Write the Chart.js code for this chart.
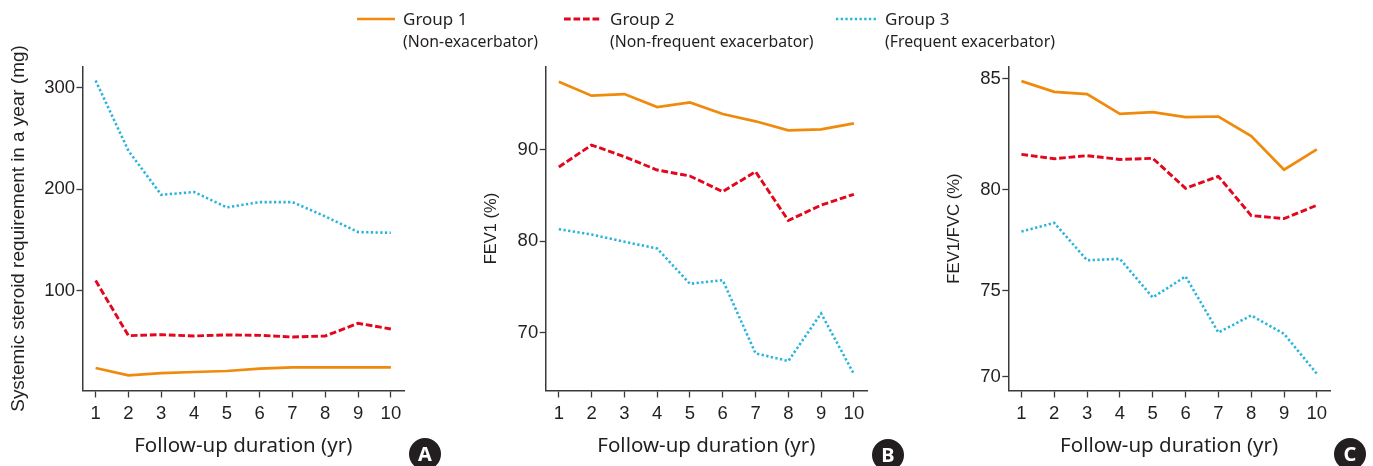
<!DOCTYPE html>
<html>
<head>
<meta charset="utf-8">
<title>Exacerbator groups over 10 years of follow-up</title>
<script src="https://cdn.jsdelivr.net/npm/chart.js@4.4.1/dist/chart.umd.min.js"></script>
<style>
  html, body { margin: 0; padding: 0; background: #fff; }
  #fig { position: relative; width: 1373px; height: 466px; overflow: hidden; background: #fff; }
  #fig canvas { position: absolute; top: 0; }
  .leg-line { position: absolute; }
  .leg-text { position: absolute; color: #231f20; font-family: "Noto Sans", sans-serif; white-space: nowrap; }
  .leg-main { font-size: 17px; line-height: 17px; }
  .leg-sub { font-size: 15.8px; line-height: 15.8px; }
  .badge { position: absolute; width: 32px; height: 32px; border-radius: 50%; background: #231f20; color: #fff;
           font-family: "Noto Sans", sans-serif; font-weight: bold; font-size: 20px; line-height: 32px; text-align: center; }
</style>
</head>
<body>
<div id="fig">
  <canvas id="panelA" width="460" height="466" style="left:0px"></canvas>
  <canvas id="panelB" width="460" height="466" style="left:460px"></canvas>
  <canvas id="panelC" width="453" height="466" style="left:920px"></canvas>
</div>
<script>
// Follow-up years
const years = [1, 2, 3, 4, 5, 6, 7, 8, 9, 10];

// Systemic steroid requirement in a year (mg)
const steroidGroup1 = [24.1, 16.9, 19.2, 20.2, 21.2, 23.5, 24.8, 24.8, 24.8, 24.8];
const steroidGroup2 = [110.2, 56.0, 57.0, 55.7, 56.7, 56.3, 54.7, 55.7, 68.1, 62.6];
const steroidGroup3 = [307.2, 238.0, 194.7, 197.4, 182.3, 187.5, 187.5, 173.4, 158.0, 157.3];

// FEV1 (% predicted)
const fev1Group1 = [97.43, 95.90, 96.08, 94.66, 95.17, 93.90, 93.10, 92.11, 92.22, 92.88];
const fev1Group2 = [88.11, 90.51, 89.23, 87.78, 87.12, 85.41, 87.60, 82.26, 83.94, 85.12];
const fev1Group3 = [81.31, 80.73, 79.93, 79.20, 75.34, 75.74, 67.74, 66.90, 72.11, 65.48];

// FEV1/FVC (%)
const ratioGroup1 = [84.88, 84.40, 84.30, 83.41, 83.49, 83.26, 83.29, 82.41, 80.90, 81.81];
const ratioGroup2 = [81.59, 81.39, 81.53, 81.36, 81.41, 80.06, 80.60, 78.72, 78.57, 79.23];
const ratioGroup3 = [77.93, 78.36, 76.51, 76.58, 74.61, 75.71, 72.57, 73.56, 72.49, 70.16];

// Axis tick labels
const steroidTicks = [100, 200, 300];
const fev1Ticks = [70, 80, 90];
const ratioTicks = [70, 75, 80, 85];

// Legend text
const groupNames = ['Group 1', 'Group 2', 'Group 3'];
const groupNotes = ['(Non-exacerbator)', '(Non-frequent exacerbator)', '(Frequent exacerbator)'];
const panelLetters = ['A', 'B', 'C'];

// Series styling
const INK = '#231f20';
const groupStyles = [
  { color: '#ef8a0c', width: 2.7, dash: [] },
  { color: '#e3061c', width: 2.9, dash: [6.7, 2.8] },
  { color: '#29b4dd', width: 2.6, dash: [2.3, 2.4] }
];

// The FEV1/FVC axis has uneven spacing between its ticks; these stops give the
// fraction of the axis height at which each tick value sits.
const ratioAxisStops = [[70, 0.0432], [75, 0.3077], [80, 0.6198], [85, 0.9630]];

function stopDecimal(v, stops) {
  let i = 0;
  if (v <= stops[0][0]) i = 0;
  else if (v >= stops[stops.length - 1][0]) i = stops.length - 2;
  else { while (v > stops[i + 1][0]) i++; }
  const [v0, d0] = stops[i], [v1, d1] = stops[i + 1];
  return d0 + (v - v0) * (d1 - d0) / (v1 - v0);
}
function stopValue(d, stops) {
  let i = 0;
  if (d <= stops[0][1]) i = 0;
  else if (d >= stops[stops.length - 1][1]) i = stops.length - 2;
  else { while (d > stops[i + 1][1]) i++; }
  const [v0, d0] = stops[i], [v1, d1] = stops[i + 1];
  return v0 + (d - d0) * (v1 - v0) / (d1 - d0);
}

class SteppedLinearScale extends Chart.LinearScale {
  getPixelForValue(value) {
    if (value === null || value === undefined || isNaN(value)) return NaN;
    return this.getPixelForDecimal(stopDecimal(value, ratioAxisStops));
  }
  getValueForPixel(pixel) {
    return stopValue(this.getDecimalForPixel(pixel), ratioAxisStops);
  }
}
SteppedLinearScale.id = 'steppedLinear';
SteppedLinearScale.defaults = Chart.LinearScale.defaults;
Chart.register(SteppedLinearScale);

Chart.defaults.font.family = '"Liberation Sans", Arial, sans-serif';
Chart.defaults.color = INK;

function makePanel(canvasId, cfg) {
  const datasets = cfg.series.map((vals, g) => ({
    label: groupNames[g],
    data: years.map((x, i) => ({ x: x, y: vals[i] })),
    borderColor: groupStyles[g].color,
    borderWidth: groupStyles[g].width,
    borderDash: groupStyles[g].dash,
    borderCapStyle: 'butt',
    borderJoinStyle: 'miter',
    pointRadius: 0,
    tension: 0,
    fill: false
  }));
  const canvasH = 466;
  const chartTop = 66.5, chartBottom = 390.5;
  return new Chart(document.getElementById(canvasId), {
    type: 'line',
    data: { datasets: datasets },
    options: {
      responsive: false,
      animation: false,
      events: [],
      layout: { padding: { left: 0, top: chartTop, right: cfg.padRight, bottom: 0 } },
      plugins: { legend: { display: false }, tooltip: { enabled: false } },
      scales: {
        x: {
          type: 'linear',
          min: 0.6, max: 10.4,
          afterBuildTicks: s => { s.ticks = years.map(v => ({ value: v })); },
          afterFit: s => { s.height = canvasH - chartBottom; },
          border: { display: true, color: '#3a3a3a', width: 1.5 },
          grid: { display: true, drawOnChartArea: false, drawTicks: true, tickLength: 7, tickColor: '#3a3a3a', tickWidth: 1.3 },
          ticks: { padding: 5.2, color: INK, font: { size: 18.5 }, maxRotation: 0, autoSkip: false, callback: v => String(v) },
          title: {
            display: true, text: 'Follow-up duration (yr)', color: INK,
            font: { family: '"Noto Sans", sans-serif', size: 20.5 },
            padding: { top: 0, bottom: 7.5 }
          }
        },
        y: {
          type: cfg.yType,
          min: cfg.yMin, max: cfg.yMax,
          afterBuildTicks: s => { s.ticks = cfg.yTicks.map(v => ({ value: v })); },
          afterFit: s => { s.width = cfg.chartLeft; },
          border: { display: true, color: '#3a3a3a', width: 1.5 },
          grid: { display: true, drawOnChartArea: false, drawTicks: true, tickLength: 6, tickColor: '#3a3a3a', tickWidth: 1.3 },
          ticks: { padding: 1.5, color: INK, font: { size: 18.5 }, autoSkip: false, callback: v => String(v) },
          title: {
            display: true, text: cfg.yTitle, color: INK,
            font: { size: cfg.yTitleSize },
            padding: { top: cfg.yTitleX - cfg.yTitleSize * 0.6, bottom: 0 }
          }
        }
      }
    }
  });
}

makePanel('panelA', {
  series: [steroidGroup1, steroidGroup2, steroidGroup3],
  yType: 'linear', yMin: 2, yMax: 321, yTicks: steroidTicks,
  yTitle: 'Systemic steroid requirement in a year (mg)', yTitleSize: 18.9, yTitleX: 19,
  chartLeft: 82.5, padRight: 56
});
makePanel('panelB', {
  series: [fev1Group1, fev1Group2, fev1Group3],
  yType: 'linear', yMin: 63.68, yMax: 99.09, yTicks: fev1Ticks,
  yTitle: 'FEV1 (%)', yTitleSize: 16.5, yTitleX: 31,
  chartLeft: 85.7, padRight: 53
});
makePanel('panelC', {
  series: [ratioGroup1, ratioGroup2, ratioGroup3],
  yType: 'steppedLinear', yMin: 69.18, yMax: 85.55, yTicks: ratioTicks,
  yTitle: 'FEV1/FVC (%)', yTitleSize: 16.7, yTitleX: 34,
  chartLeft: 88.3, padRight: 43
});

// Legend across the top
const fig = document.getElementById('fig');
const legendPlaces = [
  { lineX: 357, lineW: 38, textX: 403 },
  { lineX: 564, lineW: 36, textX: 610 },
  { lineX: 836, lineW: 40, textX: 885 }
];
legendPlaces.forEach((p, g) => {
  const st = groupStyles[g];
  const svgNS = 'http://www.w3.org/2000/svg';
  const svg = document.createElementNS(svgNS, 'svg');
  svg.setAttribute('width', p.lineW);
  svg.setAttribute('height', 8);
  svg.setAttribute('class', 'leg-line');
  svg.style.left = p.lineX + 'px';
  svg.style.top = '15px';
  const ln = document.createElementNS(svgNS, 'line');
  ln.setAttribute('x1', 0); ln.setAttribute('x2', p.lineW);
  ln.setAttribute('y1', 4); ln.setAttribute('y2', 4);
  ln.setAttribute('stroke', st.color);
  ln.setAttribute('stroke-width', st.width);
  if (st.dash.length) ln.setAttribute('stroke-dasharray', st.dash.join(' '));
  svg.appendChild(ln);
  fig.appendChild(svg);

  const t1 = document.createElement('div');
  t1.className = 'leg-text leg-main';
  t1.style.left = p.textX + 'px';
  t1.style.top = '10px';
  t1.textContent = groupNames[g];
  fig.appendChild(t1);

  const t2 = document.createElement('div');
  t2.className = 'leg-text leg-sub';
  t2.style.left = p.textX + 'px';
  t2.style.top = '33.5px';
  t2.textContent = groupNotes[g];
  fig.appendChild(t2);
});

// Panel letters in the lower right corners
const badgeCentres = [[425, 454], [888, 454.5], [1350, 454]];
badgeCentres.forEach((c, i) => {
  const b = document.createElement('div');
  b.className = 'badge';
  b.style.left = (c[0] - 16) + 'px';
  b.style.top = (c[1] - 16) + 'px';
  b.textContent = panelLetters[i];
  fig.appendChild(b);
});
</script>
</body>
</html>
